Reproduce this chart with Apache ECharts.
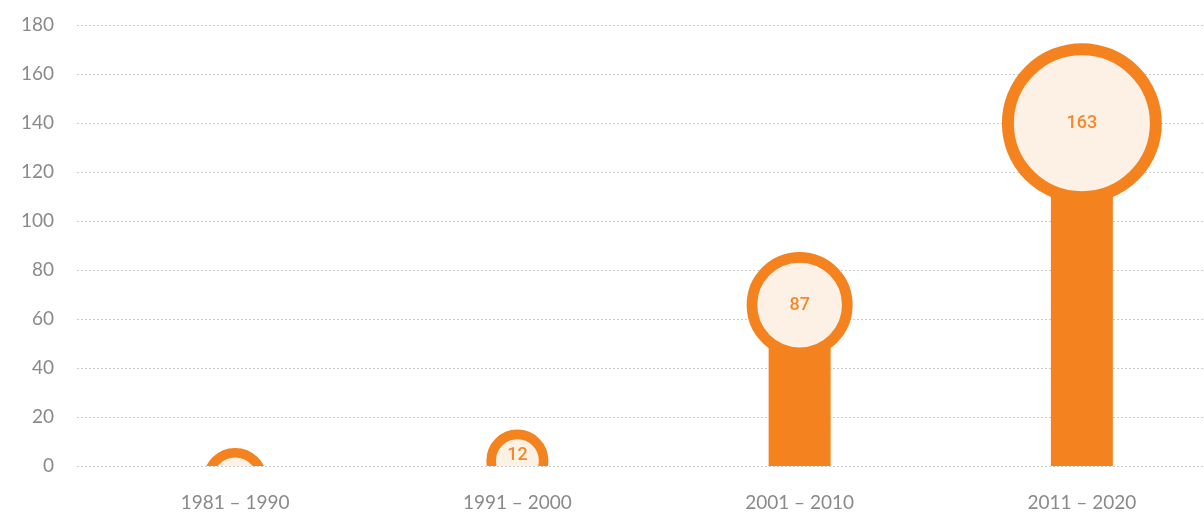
<!DOCTYPE html>
<html>
<head>
<meta charset="utf-8">
<script src="https://cdn.jsdelivr.net/npm/echarts@6/dist/echarts.min.js"></script>
<style>
  html, body { margin: 0; padding: 0; background: #fff; }
  #main { width: 1204px; height: 513px; }
</style>
</head>
<body>
<div id="main"></div>
<script>
// data
const decades = ['1981 – 1990', '1991 – 2000', '2001 – 2010', '2011 – 2020'];
const counts = [null, 12, 87, 163];          // number shown in each bubble
const bubbleLevel = [-5.7, 2.2, 65.7, 139.9]; // y value of each bubble centre
const bubbleSize = [64, 62, 106, 160];        // bubble diameter (px)
const stemValues = [0, 0, 65.7, 139.9];       // bar under each bubble
const yTicks = [0, 20, 40, 60, 80, 100, 120, 140, 160, 180];

const ORANGE = '#f4831f';
const CREAM = '#fdf1e6';
const GREY = '#8a8a8a';

const myChart = echarts.init(document.getElementById('main'));

const bubbleData = decades.map((d, i) => [i, bubbleLevel[i], bubbleSize[i], counts[i]]);

const option = {
  animation: false,
  grid: [
    { left: 77, right: 0, top: 25, bottom: 47, outerBoundsMode: 'none' },
    { left: 94, right: -19, top: 25, bottom: 47, outerBoundsMode: 'none' }
  ],
  xAxis: [
    { gridIndex: 0, type: 'category', data: decades, show: false },
    {
      gridIndex: 1,
      type: 'category',
      data: decades,
      axisLine: { show: false },
      axisTick: { show: false },
      axisLabel: { color: GREY, fontSize: 19, fontFamily: 'Lato', margin: 27 }
    }
  ],
  yAxis: [
    {
      gridIndex: 0,
      type: 'value',
      min: yTicks[0],
      max: yTicks[yTicks.length - 1],
      interval: 20,
      axisLine: { show: false },
      axisTick: { show: false },
      axisLabel: { color: GREY, fontSize: 19, fontFamily: 'Lato', margin: 23 },
      splitLine: { lineStyle: { color: '#cccccc', type: [2, 2], width: 1 } }
    },
    {
      gridIndex: 1,
      type: 'value',
      min: yTicks[0],
      max: yTicks[yTicks.length - 1],
      show: false
    }
  ],
  series: [
    {
      type: 'bar',
      xAxisIndex: 1,
      yAxisIndex: 1,
      barWidth: 62,
      z: 2,
      data: stemValues,
      itemStyle: { color: ORANGE }
    },
    {
      type: 'custom',
      xAxisIndex: 1,
      yAxisIndex: 1,
      clip: true,
      z: 5,
      data: bubbleData,
      renderItem: function (params, api) {
        const pt = api.coord([api.value(0), api.value(1)]);
        const d = api.value(2);
        const n = api.value(3);
        const lw = 8 + d / 40;
        const r = d / 2 - lw / 2;
        return {
          type: 'group',
          children: [
            {
              type: 'circle',
              shape: { cx: pt[0], cy: pt[1], r: r },
              style: { fill: CREAM, stroke: ORANGE, lineWidth: lw }
            },
            {
              type: 'text',
              x: pt[0],
              y: pt[1] - (d < 80 ? 5 : 0),
              style: {
                text: isNaN(n) ? '' : String(n),
                fill: '#f4892a',
                font: '500 18px Roboto',
                align: 'center',
                verticalAlign: 'middle'
              }
            }
          ]
        };
      }
    }
  ]
};

myChart.setOption(option);
</script>
</body>
</html>
